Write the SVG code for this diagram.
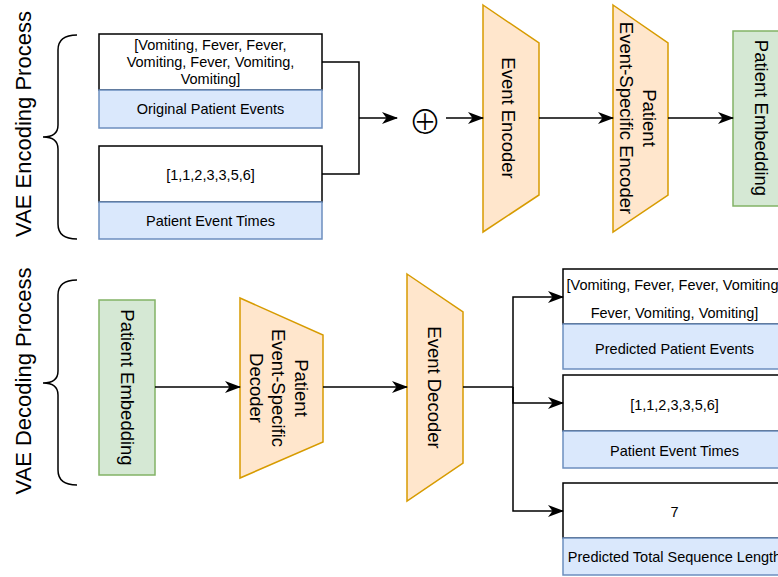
<svg xmlns="http://www.w3.org/2000/svg" width="778" height="577" viewBox="0 0 778 577">
<style>
text{font-family:"Liberation Sans",Arial,sans-serif;fill:#000;}
.sm{font-size:14.5px;text-anchor:middle;dominant-baseline:central;}
.md{font-size:18.5px;text-anchor:middle;dominant-baseline:central;}
.lg{font-size:22px;text-anchor:middle;dominant-baseline:central;}
.wb{fill:#fff;stroke:#000;stroke-width:1.5;}
.bl{fill:#dae8fc;stroke:#6c8ebf;stroke-width:1.5;}
.gr{fill:#d5e8d4;stroke:#82b366;stroke-width:1.5;}
.or{fill:#ffe6cc;stroke:#d79b00;stroke-width:1.5;}
.ln{fill:none;stroke:#000;stroke-width:1.5;}
.ar{fill:none;stroke:#000;stroke-width:1.5;marker-end:url(#ah);}
</style>
<defs>
<marker id="ah" viewBox="0 0 16 12" refX="15" refY="6" markerWidth="16" markerHeight="12" markerUnits="userSpaceOnUse" orient="auto">
<path d="M0,0 L16,6 L0,12 L4.5,6 z" fill="#000"/>
</marker>
</defs>

<g id="enc-label">
<text class="lg" transform="translate(23,124) rotate(-90)">VAE Encoding Process</text>
<path class="ln" d="M77,35 Q58,35 58,50 L58,125 Q58,137 43,137 Q58,137 58,149 L58,224 Q58,239 77,239"/>
</g>
<g id="dec-label">
<text class="lg" transform="translate(23,381) rotate(-90)">VAE Decoding Process</text>
<path class="ln" d="M77,280 Q58,280 58,295 L58,371 Q58,383 43,383 Q58,383 58,395 L58,470 Q58,485 77,485"/>
</g>

<g id="orig-events">
<rect class="wb" x="99" y="34" width="223" height="56"/>
<rect class="bl" x="99" y="90" width="223" height="38"/>
<text class="sm" x="210.5" y="45">[Vomiting, Fever, Fever,</text>
<text class="sm" x="210.5" y="62">Vomiting, Fever, Vomiting,</text>
<text class="sm" x="210.5" y="79">Vomiting]</text>
<text class="sm" x="210.5" y="109">Original Patient Events</text>
</g>
<g id="enc-times">
<rect class="wb" x="99" y="146" width="223" height="56"/>
<rect class="bl" x="99" y="202" width="223" height="37"/>
<text class="sm" x="210.5" y="175">[1,1,2,3,3,5,6]</text>
<text class="sm" x="210.5" y="221">Patient Event Times</text>
</g>
<g id="concat">
<text x="425" y="120" style="font-family:'Noto Sans CJK SC','DejaVu Sans',sans-serif;font-size:33px;font-weight:300;text-anchor:middle;dominant-baseline:central;">⊕</text>
</g>
<g id="event-encoder">
<polygon class="or" points="483,5 539,43 539,195 483,232"/>
<text class="md" transform="translate(508,118) rotate(90)">Event Encoder</text>
</g>
<g id="pes-encoder">
<polygon class="or" points="613,5 668,43 668,195 613,232"/>
<text class="md" transform="translate(638.5,118) rotate(90)"><tspan x="0" y="-11.5">Patient</tspan><tspan x="0" y="11.5">Event-Specific Encoder</tspan></text>
</g>
<g id="enc-embedding">
<rect class="gr" x="733" y="31" width="56" height="175"/>
<text class="md" transform="translate(761,118) rotate(90)">Patient Embedding</text>
</g>

<g id="dec-embedding">
<rect class="gr" x="99" y="300" width="56" height="175"/>
<text class="md" transform="translate(127,387.5) rotate(90)">Patient Embedding</text>
</g>
<g id="pes-decoder">
<polygon class="or" points="240,298 323,335 323,442 240,478"/>
<text class="md" transform="translate(279,388) rotate(90)"><tspan x="0" y="-23">Patient</tspan><tspan x="0" y="0">Event-Specific</tspan><tspan x="0" y="22.5">Decoder</tspan></text>
</g>
<g id="event-decoder">
<polygon class="or" points="407,274 463,312 463,463 407,501"/>
<text class="md" transform="translate(434,387.5) rotate(90)">Event Decoder</text>
</g>
<g id="pred-events">
<rect class="wb" x="563" y="269" width="223" height="55"/>
<rect class="bl" x="563" y="324" width="223" height="45"/>
<text class="sm" x="674.5" y="285">[Vomiting, Fever, Fever, Vomiting,</text>
<text class="sm" x="674.5" y="313">Fever, Vomiting, Vomiting]</text>
<text class="sm" x="674.5" y="349">Predicted Patient Events</text>
</g>
<g id="pred-times">
<rect class="wb" x="563" y="375" width="223" height="56"/>
<rect class="bl" x="563" y="431" width="223" height="37"/>
<text class="sm" x="674.5" y="405">[1,1,2,3,3,5,6]</text>
<text class="sm" x="674.5" y="451">Patient Event Times</text>
</g>
<g id="pred-length">
<rect class="wb" x="563" y="483" width="223" height="55"/>
<rect class="bl" x="563" y="538" width="223" height="37"/>
<text class="sm" x="674.5" y="512">7</text>
<text class="sm" x="674.5" y="557">Predicted Total Sequence Length</text>
</g>

<g id="connectors">
<path class="ln" d="M322,62 H359 V174 H322"/>
<path class="ar" d="M359,118 H397"/>
<path class="ar" d="M446,118 H483"/>
<path class="ar" d="M539,118 H613"/>
<path class="ar" d="M668,118 H733"/>
<path class="ar" d="M155,387 H240"/>
<path class="ar" d="M323,387 H407"/>
<path class="ar" d="M463,387 H513 V297 H563"/>
<path class="ar" d="M513,387 V403 H563"/>
<path class="ar" d="M513,387 V511 H563"/>
</g>
</svg>
